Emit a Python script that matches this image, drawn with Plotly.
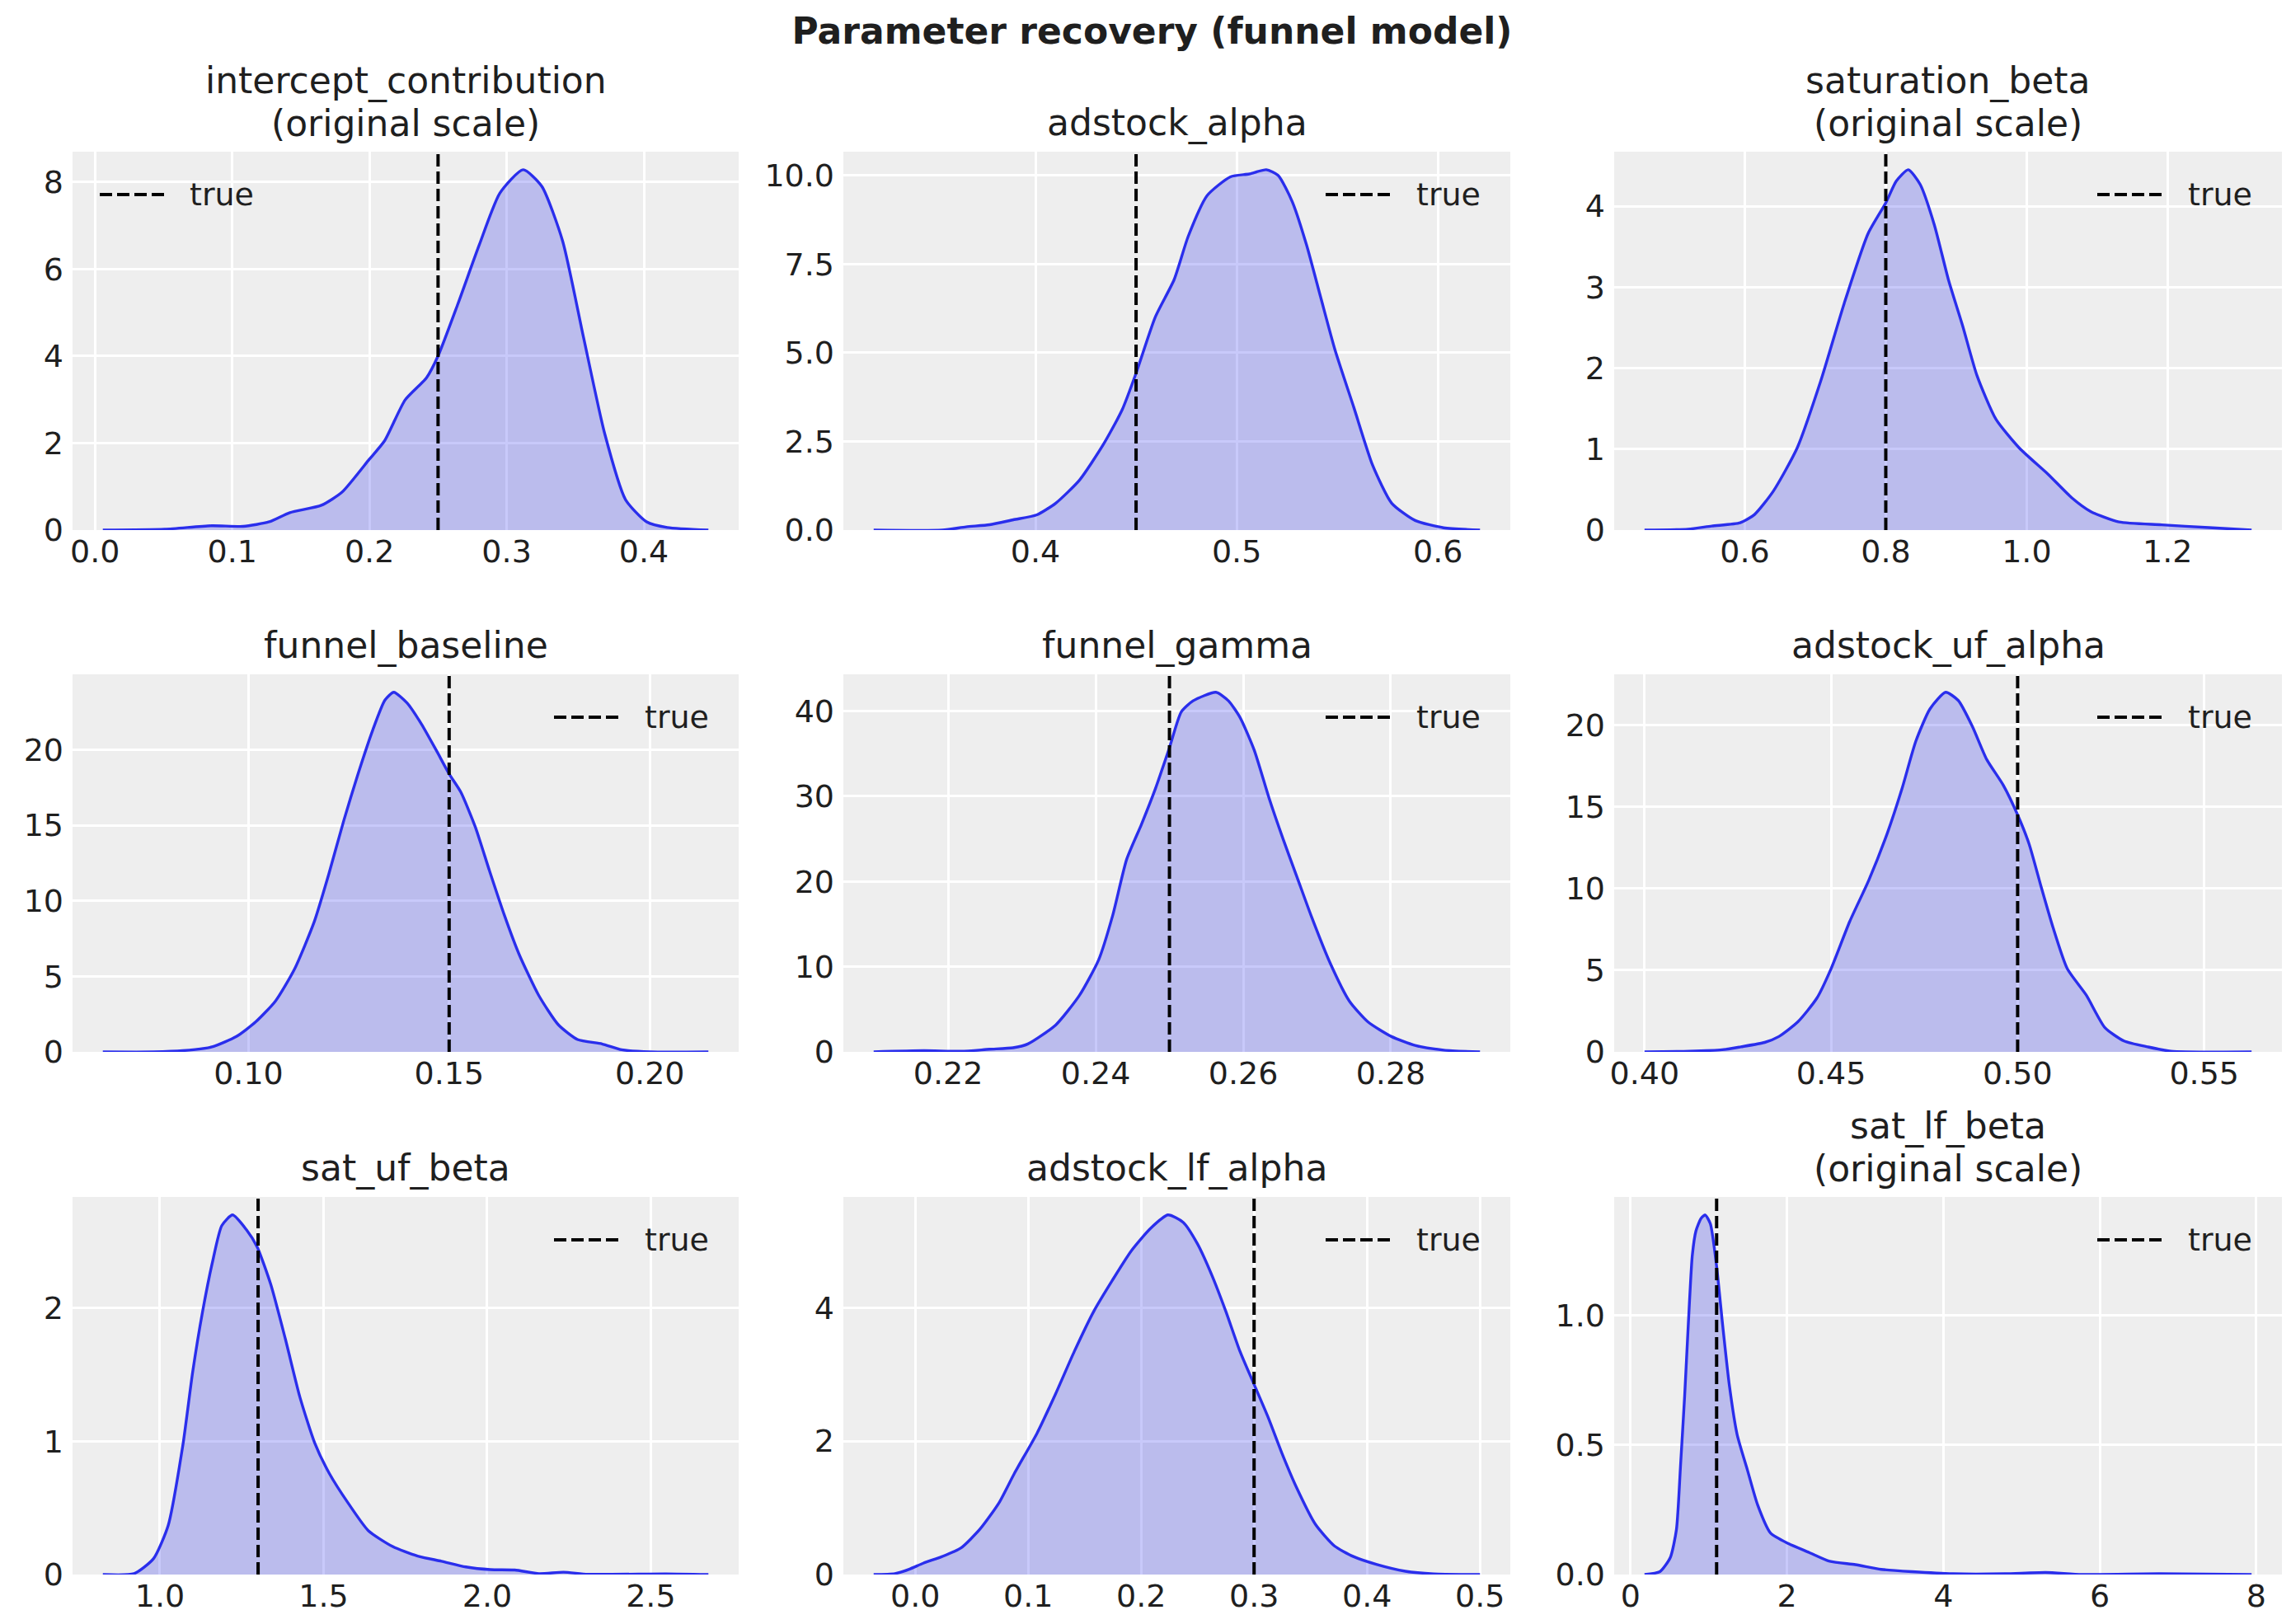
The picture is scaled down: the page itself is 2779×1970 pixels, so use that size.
import plotly.graph_objects as go

# ─────────────────────────────────────────────────────────────────────────────
# Data: posterior KDE curves, plus true parameter values
# ─────────────────────────────────────────────────────────────────────────────
titles = [
    ["intercept_contribution", "(original scale)"],
    ["adstock_alpha"],
    ["saturation_beta", "(original scale)"],
    ["funnel_baseline"],
    ["funnel_gamma"],
    ["adstock_uf_alpha"],
    ["sat_uf_beta"],
    ["adstock_lf_alpha"],
    ["sat_lf_beta", "(original scale)"],
]
true_vals = [0.25, 0.45, 0.8, 0.15, 0.25, 0.5, 1.3, 0.3, 1.1]
legend_label = "true"

intercept_x = [0.0057, 0.0508, 0.085, 0.108, 0.127, 0.142, 0.165, 0.18, 0.2, 0.211,
               0.226, 0.2416, 0.25, 0.2645, 0.28, 0.295, 0.312, 0.3256, 0.3408,
               0.356, 0.3714, 0.3866, 0.402, 0.417, 0.447]
intercept_y = [0.0, 0.02, 0.1, 0.085, 0.19, 0.4, 0.57, 0.87, 1.63, 2.05,
               2.99, 3.5, 4.0, 5.2, 6.55, 7.74, 8.28, 7.9, 6.64,
               4.43, 2.22, 0.7, 0.19, 0.06, 0.0]

adstock_x = [0.3196, 0.3537, 0.3655, 0.3772, 0.389, 0.4007, 0.4101, 0.4219, 0.4336,
             0.443, 0.4501, 0.4595, 0.4689, 0.4759, 0.4853, 0.4969, 0.5063, 0.5147,
             0.5206, 0.5276, 0.5347, 0.5417, 0.5488, 0.5582, 0.5676, 0.577, 0.5887,
             0.6028, 0.6209]
adstock_y = [0.0, 0.0, 0.09, 0.15, 0.29, 0.43, 0.76, 1.41, 2.4,
             3.38, 4.44, 6.0, 7.06, 8.28, 9.43, 9.96, 10.04, 10.16,
             10.0, 9.26, 8.04, 6.57, 5.09, 3.46, 1.82, 0.76, 0.27,
             0.065, 0.0]

saturation_x = [0.4575, 0.5193, 0.5529, 0.5933, 0.6134, 0.6403, 0.674, 0.7076, 0.741,
                0.7748, 0.8, 0.815, 0.8319, 0.8487, 0.8689, 0.889, 0.9092, 0.9294,
                0.9563, 0.9899, 1.0303, 1.0639, 1.0908, 1.1311, 1.1916, 1.2588, 1.3193]
saturation_y = [0.0, 0.01, 0.05, 0.09, 0.19, 0.48, 1.01, 1.84, 2.8,
                3.66, 4.04, 4.31, 4.45, 4.27, 3.77, 3.09, 2.52, 1.91,
                1.37, 1.01, 0.69, 0.4, 0.23, 0.1, 0.065, 0.03, 0.0]

baseline_x = [0.0637, 0.0763, 0.0836, 0.0909, 0.097, 0.1018, 0.1067, 0.1115, 0.1164,
              0.12, 0.1237, 0.1273, 0.131, 0.134, 0.1362, 0.1395, 0.1431, 0.1468,
              0.15, 0.1529, 0.1565, 0.1601, 0.1638, 0.1674, 0.1723, 0.1772, 0.182,
              0.1881, 0.193, 0.2002, 0.2146]
baseline_y = [0.0, 0.0, 0.08, 0.33, 1.02, 1.99, 3.36, 5.5, 8.63,
              11.76, 15.27, 18.4, 21.33, 23.28, 23.8, 23.1, 21.7, 19.96,
              18.4, 17.2, 14.9, 11.95, 9.02, 6.48, 3.75, 1.8, 0.82,
              0.53, 0.14, 0.0, 0.0]

gamma_x = [0.2099, 0.2167, 0.2218, 0.2256, 0.2288, 0.2308, 0.2346, 0.2378, 0.2404,
           0.2423, 0.2442, 0.2462, 0.2481, 0.25, 0.2516, 0.2532, 0.2563, 0.258,
           0.2596, 0.2615, 0.2635, 0.2654, 0.2673, 0.2692, 0.2718, 0.2744, 0.2769,
           0.2801, 0.2833, 0.2872, 0.2921]
gamma_y = [0.0, 0.14, 0.07, 0.31, 0.48, 0.93, 3.18, 6.64, 10.8,
           16.0, 22.6, 26.7, 30.9, 35.7, 39.9, 41.2, 42.2, 41.2,
           39.2, 35.4, 29.8, 25.0, 20.5, 16.0, 10.4, 5.95, 3.53,
           1.8, 0.76, 0.21, 0.0]

uf_alpha_x = [0.4, 0.4119, 0.4208, 0.4258, 0.4322, 0.436, 0.4411, 0.4462, 0.45,
              0.455, 0.4601, 0.4651, 0.469, 0.4727, 0.4765, 0.4807, 0.4841, 0.4879,
              0.4917, 0.4962, 0.5, 0.5031, 0.5063, 0.5095, 0.5133, 0.5184, 0.5234,
              0.5285, 0.5348, 0.5411, 0.5627]
uf_alpha_y = [0.0, 0.04, 0.13, 0.31, 0.58, 0.94, 1.84, 3.29, 5.09,
              7.98, 10.5, 13.4, 16.1, 19.0, 20.98, 22.0, 21.5, 19.9,
              17.9, 16.3, 14.5, 12.7, 10.1, 7.6, 5.09, 3.47, 1.48,
              0.67, 0.31, 0.04, 0.0]

uf_beta_x = [0.8255, 0.921, 0.9806, 1.0254, 1.07, 1.1, 1.13, 1.16, 1.189, 1.222,
             1.264, 1.297, 1.3385, 1.3832, 1.428, 1.4727, 1.5175, 1.577, 1.6367,
             1.7113, 1.7859, 1.8604, 1.935, 2.0095, 2.0841, 2.1587, 2.2332, 2.3078,
             2.5464, 2.676]
uf_beta_y = [0.0, 0.007, 0.12, 0.37, 0.97, 1.52, 1.97, 2.34, 2.62, 2.70,
             2.59, 2.46, 2.18, 1.77, 1.33, 0.99, 0.76, 0.53, 0.33,
             0.21, 0.14, 0.1, 0.057, 0.037, 0.034, 0.007, 0.018, 0.002,
             0.005, 0.0]

lf_alpha_x = [-0.0368, -0.018, -0.0054, 0.0071, 0.0238, 0.0406, 0.0573, 0.074, 0.0879,
              0.1079, 0.1243, 0.141, 0.1582, 0.1745, 0.1916, 0.2084, 0.2238, 0.2372,
              0.2498, 0.2623, 0.2749, 0.2874, 0.3, 0.3126, 0.3251, 0.3377, 0.3544,
              0.3711, 0.3879, 0.4088, 0.4339, 0.459, 0.5]
lf_alpha_y = [0.0, 0.014, 0.08, 0.17, 0.27, 0.4, 0.68, 1.07, 1.52,
              2.12, 2.71, 3.35, 3.95, 4.41, 4.86, 5.19, 5.39, 5.28,
              4.96, 4.5, 3.95, 3.35, 2.85, 2.35, 1.8, 1.3, 0.75,
              0.43, 0.27, 0.15, 0.05, 0.01, 0.0]

lf_beta_x = [0.178, 0.375, 0.507, 0.586, 0.638, 0.691, 0.737, 0.789, 0.836, 0.901,
             0.954, 1.02, 1.099, 1.178, 1.263, 1.362, 1.493, 1.625, 1.789, 2.02,
             2.283, 2.546, 2.875, 3.204, 3.599, 4.125, 4.783, 5.309, 5.77, 6.757, 7.941]
lf_beta_y = [0.0, 0.011, 0.065, 0.173, 0.417, 0.688, 0.959, 1.23, 1.325, 1.373,
             1.386, 1.352, 1.19, 0.959, 0.729, 0.54, 0.404, 0.268, 0.16, 0.119,
             0.085, 0.051, 0.038, 0.02, 0.011, 0.003, 0.003, 0.008, 0.0, 0.003, 0.0]

curves = [
    (intercept_x, intercept_y),
    (adstock_x, adstock_y),
    (saturation_x, saturation_y),
    (baseline_x, baseline_y),
    (gamma_x, gamma_y),
    (uf_alpha_x, uf_alpha_y),
    (uf_beta_x, uf_beta_y),
    (lf_alpha_x, lf_alpha_y),
    (lf_beta_x, lf_beta_y),
]

# tick spacing / formats per panel
x_dticks = [0.1, 0.1, 0.2, 0.05, 0.02, 0.05, 0.5, 0.1, 2]
x_formats = [".1f", ".1f", ".1f", ".2f", ".2f", ".2f", ".1f", ".1f", "d"]
y_dticks = [2, 2.5, 1, 5, 10, 5, 1, 2, 0.5]
y_formats = ["d", ".1f", "d", "d", "d", "d", "d", "d", ".1f"]
legend_left = [True, False, False, False, False, False, False, False, False]

# ─────────────────────────────────────────────────────────────────────────────
# Layout geometry (pixels in the 2779 x 1970 page)
# ─────────────────────────────────────────────────────────────────────────────
W, H = 2779, 1970
ML, MR, MT, MB = 80, 19, 176, 68
PW, PH = W - ML - MR, H - MT - MB
cols_px = [(80, 888), (1015, 1824), (1950, 2760)]
rows_px = [(176, 635), (810, 1268), (1444, 1902)]
TITLE_LINE = 51

LINE_C = "#2a2eec"
FILL_C = "rgba(42, 46, 236, 0.26)"
TEXT_C = "#1f1f1f"
FONT = "DejaVu Sans"
DASH = "15px,6px"

fig = go.Figure()
layout = {}

for i, (xs, ys) in enumerate(curves):
    r, c = divmod(i, 3)
    n = "" if i == 0 else str(i + 1)
    xa, ya = "x" + n, "y" + n

    span = max(xs) - min(xs)
    xr = [min(xs) - 0.05 * span, max(xs) + 0.05 * span]
    yr = [0, max(ys) * 1.05]

    fig.add_trace(go.Scatter(
        x=xs, y=ys, mode="lines", fill="tozeroy", fillcolor=FILL_C,
        line=dict(color=LINE_C, width=3.4, shape="spline", smoothing=0.6),
        showlegend=False, hoverinfo="skip", xaxis=xa, yaxis=ya,
    ))
    fig.add_trace(go.Scatter(
        x=[true_vals[i], true_vals[i]], y=yr, mode="lines", name=legend_label,
        line=dict(color="black", width=4, dash=DASH),
        xaxis=xa, yaxis=ya, showlegend=False,
    ))

    cx0, cx1 = cols_px[c]
    ry0, ry1 = rows_px[r]
    axis_common = dict(
        showgrid=True, gridcolor="white", gridwidth=2.5, zeroline=False,
        showline=False, ticks="",
        tickfont=dict(family=FONT, size=38, color=TEXT_C), tick0=0,
    )
    layout["xaxis" + n] = dict(
        axis_common, anchor=ya, range=xr, dtick=x_dticks[i], tickformat=x_formats[i],
        domain=[(cx0 - ML) / PW, (cx1 - ML) / PW], ticklabelstandoff=0,
    )
    layout["yaxis" + n] = dict(
        axis_common, anchor=xa, range=yr, dtick=y_dticks[i], tickformat=y_formats[i],
        domain=[1 - (ry1 - MT) / PH, 1 - (ry0 - MT) / PH], ticklabelstandoff=10,
    )

    # in-axes legend: dashed sample + label, as matplotlib draws it
    if legend_left[i]:
        lx, l0, l1, t0 = 0, 33, 111, 140
    else:
        lx, l0, l1, t0 = 1, -224, -145, -116
    fig.add_shape(
        type="line", xref=xa + " domain", yref=ya + " domain",
        xsizemode="pixel", xanchor=lx, x0=l0, x1=l1,
        ysizemode="pixel", yanchor=1, y0=-52, y1=-52,
        line=dict(color="black", width=4, dash=DASH),
    )
    fig.add_annotation(
        text=legend_label, xref=xa + " domain", yref=ya + " domain",
        x=lx, xshift=t0, xanchor="left", y=1, yshift=-52, yanchor="middle",
        showarrow=False, font=dict(family=FONT, size=38, color=TEXT_C),
    )

    # subplot title, one annotation per line (bottom line first)
    for k, line in enumerate(reversed(titles[i])):
        fig.add_annotation(
            text=line, xref=xa + " domain", yref=ya + " domain", x=0.5, y=1,
            xanchor="center", yanchor="bottom", yshift=7 + k * TITLE_LINE,
            showarrow=False, font=dict(family=FONT, size=44, color=TEXT_C),
        )

fig.update_layout(
    **layout,
    width=W, height=H,
    margin=dict(l=ML, r=MR, t=MT, b=MB),
    paper_bgcolor="white", plot_bgcolor="#eeeeee",
    font=dict(family=FONT, color=TEXT_C),
    showlegend=False,
    title=dict(
        text="<b>Parameter recovery (funnel model)</b>", x=0.5, xanchor="center",
        xref="container", y=1 - 30 / H, yanchor="middle", yref="container",
        font=dict(family=FONT, size=44, color=TEXT_C),
    ),
)

fig.write_html("out.html")
